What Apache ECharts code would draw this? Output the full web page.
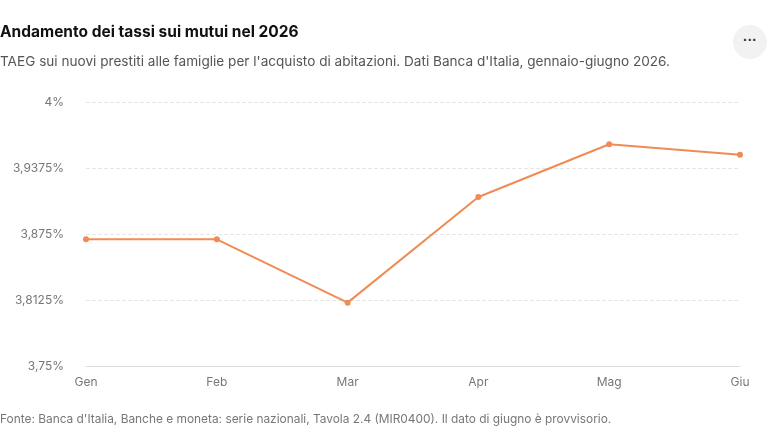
<!DOCTYPE html>
<html><head><meta charset="utf-8">
<script src="https://cdn.jsdelivr.net/npm/echarts@6/dist/echarts.min.js"></script>
<style>html,body{margin:0;padding:0;background:#fff;}#c{width:768px;height:432px;}
#t{position:absolute;left:0;top:22px;font:bold 15.5px "Inter",sans-serif;color:#111;}
#s{position:absolute;left:0;top:53px;font:13.6px "Inter",sans-serif;color:#555;}
#f{position:absolute;left:0;top:411px;font:11.9px "Inter",sans-serif;color:#777;}
#m{position:absolute;left:733px;top:25px;width:34px;height:34px;border-radius:17px;background:#f2f2f2;color:#333;font:bold 14px sans-serif;text-align:center;line-height:30px;}
</style></head><body>
<div id="c"></div>
<div id="t">Andamento dei tassi sui mutui nel 2026</div>
<div id="s">TAEG sui nuovi prestiti alle famiglie per l'acquisto di abitazioni. Dati Banca d'Italia, gennaio-giugno 2026.</div>
<div id="f">Fonte: Banca d'Italia, Banche e moneta: serie nazionali, Tavola 2.4 (MIR0400). Il dato di giugno è provvisorio.</div>
<div id="m">···</div>
<script>
const categories = ["Gen","Feb","Mar","Apr","Mag","Giu"];
const taeg = [3.87,3.87,3.81,3.91,3.96,3.95];
const chart = echarts.init(document.getElementById('c'));
chart.setOption({
  animation:false,
  grid:{left:86,right:28,top:102,bottom:66},
  xAxis:{type:'category',data:categories,boundaryGap:false,
    axisLine:{lineStyle:{color:'#ddd'}},axisTick:{show:false},
    axisLabel:{color:'#777',fontSize:12,fontFamily:'Inter',margin:10}},
  yAxis:{type:'value',min:3.75,max:4,interval:0.0625,
    axisLabel:{color:'#777',fontSize:12,fontFamily:'Inter',margin:22,
      formatter:v=>String(+v.toFixed(4)).replace('.',',')+'%'},
    splitLine:{lineStyle:{color:'#e6e6e6',type:'dashed'}}},
  series:[{type:'line',data:taeg,symbol:'circle',symbolSize:6,
    itemStyle:{color:'#ef8c55'},lineStyle:{color:'#ef8c55',width:2}}]
});
</script></body></html>
